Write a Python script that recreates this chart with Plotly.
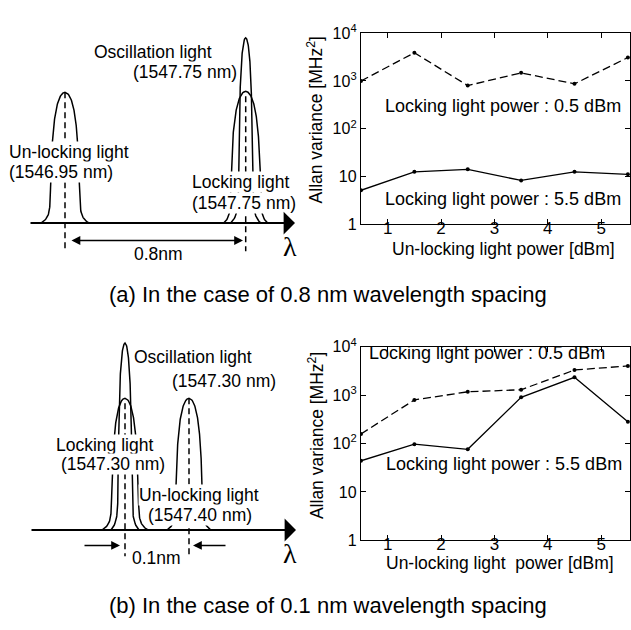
import numpy as np
import plotly.graph_objects as go

W, H = 631, 630
FONT = "Liberation Sans, Arial, sans-serif"

# ---------------- chart data ----------------
unlock_power = [0.5, 1.5, 2.5, 3.5, 4.5, 5.5]
a_lock_05 = [1000, 3900, 800, 1480, 870, 3100]     # (a) locking light 0.5 dBm
a_lock_55 = [5.1, 12.4, 14, 8.2, 12.4, 11]         # (a) locking light 5.5 dBm
b_lock_05 = [158, 795, 1170, 1290, 3300, 4000]     # (b) locking light 0.5 dBm
b_lock_55 = [44, 97, 76, 900, 2330, 280]           # (b) locking light 5.5 dBm
x_ticks = [1, 2, 3, 4, 5]
y_tick_vals = [1, 10, 100, 1000, 10000]
y_tick_text = ["1", "10", "10<sup>2</sup>", "10<sup>3</sup>", "10<sup>4</sup>"]

# ---------------- schematic spectra (diagram units = pixels of panel) ----------------
# (center, peak top, wall half-width, foot half-width)
a_peaks = [(65, 84, 12.5, 24), (245.7, 83, 13, 22), (245.7, 27.7, 6, 15)]
b_peaks = [(125, 400, 11.5, 23), (125, 343, 6, 14), (189, 400, 11.5, 22)]
a_base, b_base = 219, 536


def px(x):
    return x / W


def py(y):
    return 1 - y / H


def peak_curve(c, top, wall, foot, base):
    t = np.linspace(0, 1, 160)
    w = wall * 1.29 * np.tanh(1.7 * np.sqrt(1 - t)) + (foot - wall * 1.29 * np.tanh(1.7)) * np.exp(-t / 0.04)
    yy = base - t * (base - top)
    xs = np.concatenate([c - w, (c + w)[::-1]])
    ys = np.concatenate([yy, yy[::-1]])
    return xs, ys


fig = go.Figure()

# charts
line_kw = dict(color="black", width=1.3)
fig.add_trace(go.Scatter(x=unlock_power, y=a_lock_05, mode="lines+markers",
                         line=dict(color="black", width=1.3, dash="8px,4px"),
                         marker=dict(size=4, color="black"), xaxis="x", yaxis="y"))
fig.add_trace(go.Scatter(x=unlock_power, y=a_lock_55, mode="lines+markers",
                         line=line_kw, marker=dict(size=4, color="black"), xaxis="x", yaxis="y"))
fig.add_trace(go.Scatter(x=unlock_power, y=b_lock_05, mode="lines+markers",
                         line=dict(color="black", width=1.3, dash="8px,4px"),
                         marker=dict(size=4, color="black"), xaxis="x2", yaxis="y2"))
fig.add_trace(go.Scatter(x=unlock_power, y=b_lock_55, mode="lines+markers",
                         line=line_kw, marker=dict(size=4, color="black"), xaxis="x2", yaxis="y2"))

# diagrams
for peaks, base, xa, ya in [(a_peaks, a_base, "x3", "y3"), (b_peaks, b_base, "x4", "y4")]:
    for (c, top, wall, foot) in peaks:
        xs, ys = peak_curve(c, top, wall, foot, base)
        fig.add_trace(go.Scatter(x=xs, y=ys, mode="lines", line=dict(color="black", width=1.5),
                                 xaxis=xa, yaxis=ya))

# dashed center lines
dash_lines = [("x3", "y3", 65, 84, 248), ("x3", "y3", 245.7, 88, 248),
              ("x4", "y4", 125, 405, 563), ("x4", "y4", 189, 400, 563)]
for xa, ya, x0, y0, y1 in dash_lines:
    fig.add_trace(go.Scatter(x=[x0, x0], y=[y0, y1], mode="lines",
                             line=dict(color="black", width=1.5, dash="6px,4px"), xaxis=xa, yaxis=ya))

ax_common = dict(showgrid=False, zeroline=False, showline=True, linecolor="black", linewidth=1.3,
                 mirror="ticks", ticks="inside", ticklen=5, tickcolor="black", tickwidth=1.2)

xr = [0.5, 5.54]
xdom = [px(361), px(630)]
fig.update_layout(
    width=W, height=H, margin=dict(l=0, r=0, t=0, b=0),
    paper_bgcolor="white", plot_bgcolor="rgba(0,0,0,0)", showlegend=False,
    font=dict(family=FONT, color="black"),
    xaxis=dict(domain=xdom, anchor="y", range=xr, tickvals=x_ticks, tickfont=dict(size=17),
               ticklabelstandoff=-12, **ax_common),
    yaxis=dict(domain=[py(220), py(23)], anchor="x", type="log", range=[0, 4], tickvals=y_tick_vals,
               ticktext=y_tick_text, tickfont=dict(size=16), **ax_common),
    xaxis2=dict(domain=xdom, anchor="y2", range=xr, tickvals=x_ticks, tickfont=dict(size=17),
                ticklabelstandoff=-12, **ax_common),
    yaxis2=dict(domain=[py(546.7), py(346.7)], anchor="x2", type="log", range=[0, 4], tickvals=y_tick_vals,
                ticktext=y_tick_text, tickfont=dict(size=16), **ax_common),
    xaxis3=dict(domain=[0, px(300)], anchor="y3", range=[0, 300], visible=False),
    yaxis3=dict(domain=[py(262), 1], anchor="x3", range=[262, 0], visible=False),
    xaxis4=dict(domain=[0, px(300)], anchor="y4", range=[0, 300], visible=False),
    yaxis4=dict(domain=[py(590), py(320)], anchor="x4", range=[590, 320], visible=False),
)

ann = []
# chart texts
for xa, ya, x, y, t in [("x", "y", 3.16, 2.48, "Locking light power : 0.5 dBm"),
                        ("x", "y", 3.16, 0.53, "Locking light power : 5.5 dBm"),
                        ("x2", "y2", 2.87, 3.87, "Locking light power : 0.5 dBm"),
                        ("x2", "y2", 3.17, 1.57, "Locking light power : 5.5 dBm")]:
    ann.append(dict(x=x, y=y, xref=xa, yref=ya, text=t, showarrow=False, xanchor="center",
                    yanchor="middle", font=dict(size=18)))

# axis titles
for x, y, t, ang in [(315, 113, "Allan variance [MHz<sup>2</sup>]", -90),
                     (316, 439, "Allan variance [MHz<sup>2</sup>]", -90),
                     (504, 246, "Un-locking light power [dBm]", 0),
                     (500, 570, "Un-locking light  power [dBm]", 0)]:
    ann.append(dict(x=px(x), y=py(y), xref="paper", yref="paper", text=t, showarrow=False,
                    xanchor="center", yanchor="middle", textangle=ang, font=dict(size=17.5)))

# captions
for y, t in [(293, "(a) In the case of 0.8 nm wavelength spacing"),
             (614, "(b) In the case of 0.1 nm wavelength spacing")]:
    ann.append(dict(x=px(327.5), y=py(y), xref="paper", yref="paper", text=t, showarrow=False,
                    xanchor="center", yanchor="middle", font=dict(size=22)))

# diagram labels (x, y, text, anchor)
labels_a = [(93, 42, "Oscillation light", "left"), (238, 63, "(1547.75 nm)", "right"),
            (8, 146, "Un-locking light", "left"), (8, 166, "(1546.95 nm)", "left"),
            (191, 177, "Locking light", "left"), (191, 198, "(1547.75 nm)", "left"),
            (158, 251, "0.8nm", "center")]
labels_b = [(133, 357, "Oscillation light", "left"), (277, 382, "(1547.30 nm)", "right"),
            (55, 448, "Locking light", "left"), (60, 468, "(1547.30 nm)", "left"),
            (138, 500, "Un-locking light", "left"), (147, 521, "(1547.40 nm)", "left"),
            (156, 565, "0.1nm", "center")]
for labels, xa, ya in [(labels_a, "x3", "y3"), (labels_b, "x4", "y4")]:
    for x, y, t, anc in labels:
        ann.append(dict(x=x, y=y, xref=xa, yref=ya, text=t, showarrow=False, xanchor=anc,
                        yanchor="middle", bgcolor="white", borderpad=0, font=dict(size=17.5)))
    lam_y = 243 if xa == "x3" else 560
    ann.append(dict(x=290, y=lam_y, xref=xa, yref=ya, text="λ", showarrow=False,
                    xanchor="center", yanchor="middle",
                    font=dict(size=28, family="Liberation Serif, serif")))

# wavelength axes (baseline arrows)
for xa, ya, base, x0, x1 in [("x3", "y3", a_base, 29, 295), ("x4", "y4", b_base, 30, 296)]:
    ann.append(dict(x=x1, y=base, ax=x0, ay=base, xref=xa, yref=ya, axref=xa, ayref=ya, text="",
                    showarrow=True, arrowhead=1, arrowsize=1.9, arrowwidth=2, arrowcolor="black"))

# spacing arrows
ann.append(dict(x=243, y=237, ax=70, ay=237, xref="x3", yref="y3", axref="x3", ayref="y3", text="",
                showarrow=True, arrowhead=2, startarrowhead=2, arrowside="end+start",
                arrowsize=1.1, startarrowsize=1.1, arrowwidth=1.6, arrowcolor="black"))
ann.append(dict(x=120, y=552, ax=83, ay=552, xref="x4", yref="y4", axref="x4", ayref="y4", text="",
                showarrow=True, arrowhead=2, arrowsize=1.1, arrowwidth=1.6, arrowcolor="black"))
ann.append(dict(x=193, y=552, ax=227, ay=552, xref="x4", yref="y4", axref="x4", ayref="y4", text="",
                showarrow=True, arrowhead=2, arrowsize=1.1, arrowwidth=1.6, arrowcolor="black"))

fig.update_layout(annotations=ann)
fig.write_html("out.html", config={"displayModeBar": False},
               post_script="document.body.style.margin='0';document.body.style.padding='0';")
